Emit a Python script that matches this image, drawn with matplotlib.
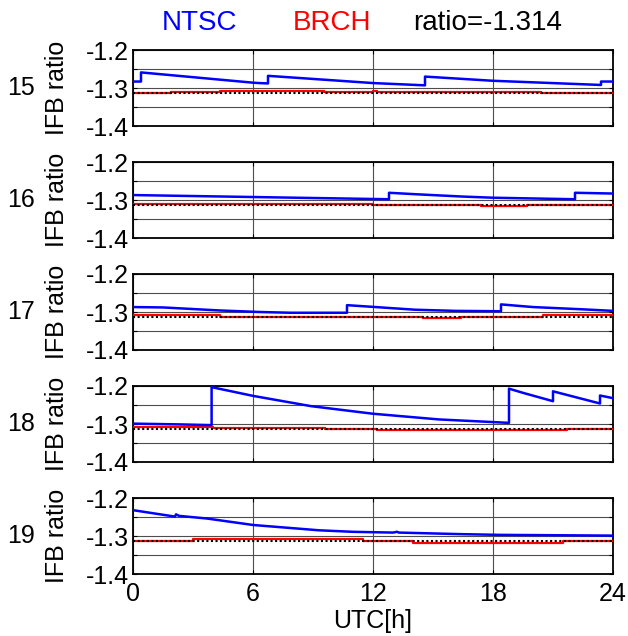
import numpy as np
import matplotlib
matplotlib.use("Agg")
import matplotlib.pyplot as plt

plt.rcParams['font.family'] = ['Liberation Sans', 'DejaVu Sans']

ratio = -1.314
days = ["15", "16", "17", "18", "19"]
x_ticks = [0, 6, 12, 18, 24]

# NTSC (blue): hours / IFB ratio, a repeated hour marks a jump
ntsc_t = [
    [0, 0.4, 0.4, 6.0, 6.3, 6.75, 6.75, 12, 14.6, 14.6, 18, 23.4, 23.4, 24],
    [0, 12.8, 12.8, 14.2, 16.5, 18, 22.1, 22.1, 24],
    [0, 1.5, 4.35, 6.35, 7.9, 10.7, 10.7, 11.85, 14.1, 16.1, 18.4, 18.4, 20,
     22.5, 24],
    [0, 2.3, 3.93, 3.93, 6, 8.9, 12, 15.3, 18.8, 18.8, 19.5, 21, 21, 22.1,
     23.35, 23.35, 24],
    [0, 2.1, 2.15, 2.3, 3.7, 6, 9.3, 11, 13, 13.2, 13.3, 16.3, 18.3, 24],
]
ntsc_v = [
    [-1.283, -1.283, -1.259, -1.286, -1.287, -1.288, -1.268, -1.287, -1.293,
     -1.270, -1.281, -1.292, -1.283, -1.283],
    [-1.287, -1.298, -1.281, -1.285, -1.291, -1.294, -1.298, -1.281, -1.283],
    [-1.287, -1.288, -1.296, -1.300, -1.302, -1.302, -1.282, -1.286, -1.294,
     -1.297, -1.298, -1.280, -1.287, -1.293, -1.297],
    [-1.299, -1.301, -1.303, -1.203, -1.226, -1.253, -1.273, -1.288, -1.297,
     -1.207, -1.218, -1.240, -1.214, -1.229, -1.246, -1.225, -1.232],
    [-1.232, -1.249, -1.243, -1.247, -1.254, -1.271, -1.285, -1.289, -1.291,
     -1.289, -1.291, -1.295, -1.297, -1.299],
]

# BRCH (red), flat levels
brch_t = [
    [0, 1.9, 4.35, 9.55, 12.0, 12.2, 20.4, 24],
    [0, 12, 17.4, 19.7, 24],
    [0, 4.35, 14.5, 16.4, 20.5, 23.6, 24],
    [0, 4, 9.6, 12.2, 21.7, 24],
    [0, 3, 11.5, 14, 21.5, 24],
]
brch_v = [
    [-1.314, -1.311, -1.307, -1.311, -1.309, -1.311, -1.313, -1.313],
    [-1.310, -1.312, -1.317, -1.312, -1.312],
    [-1.308, -1.313, -1.317, -1.313, -1.309, -1.307, -1.307],
    [-1.308, -1.310, -1.314, -1.317, -1.314, -1.314],
    [-1.313, -1.309, -1.314, -1.318, -1.314, -1.314],
]

fig = plt.figure(figsize=(6.28, 6.36), dpi=100)

for k in range(5):
    top = 50 + 112 * k
    ax = fig.add_axes([133 / 628, 1 - (top + 76) / 636, 480 / 628, 76 / 636])
    ax.plot(brch_t[k], brch_v[k], color=(1, 0, 0), lw=1.6, drawstyle='steps-post', zorder=3)
    ax.axhline(ratio, color='k', lw=1.5, ls=(0, (1, 1.2)), zorder=4)
    ax.plot(ntsc_t[k], ntsc_v[k], color=(0, 0, 1), lw=1.8, zorder=5)

    ax.set_xlim(0, 24)
    ax.set_ylim(-1.4, -1.2)
    ax.set_xticks(x_ticks)
    ax.set_yticks([-1.4, -1.35, -1.3, -1.25, -1.2])
    ax.set_yticklabels(["-1.4", "", "-1.3", "", "-1.2"], fontsize=18)
    ax.grid(True, color='0.3', lw=0.8, ls='-')
    ax.tick_params(direction='in', top=True, right=True, length=3, width=0.8, pad=3)
    if k == 4:
        ax.set_xticklabels([str(v) for v in x_ticks], fontsize=18)
        ax.tick_params(axis='x', pad=6)
        ax.set_xlabel("UTC[h]", fontsize=18, labelpad=2)
    else:
        ax.set_xticklabels([])
    for s in ax.spines.values():
        s.set_linewidth(1.3)
    ax.set_ylabel("IFB ratio", fontsize=18)
    ax.yaxis.set_label_coords(-0.133, 0.5)
    ax.text(-0.233, 0.5, days[k], transform=ax.transAxes, fontsize=18,
            ha='center', va='center')

fig.text(199 / 628, 1 - 23 / 636, "NTSC", color=(0, 0, 1), fontsize=20, ha='center', va='center')
fig.text(332 / 628, 1 - 23 / 636, "BRCH", color=(1, 0, 0), fontsize=20, ha='center', va='center')
fig.text(413 / 628, 1 - 23 / 636, "ratio=%.3f" % ratio, color='k', fontsize=20, ha='left', va='center')

fig.savefig("out.png", dpi=100)
